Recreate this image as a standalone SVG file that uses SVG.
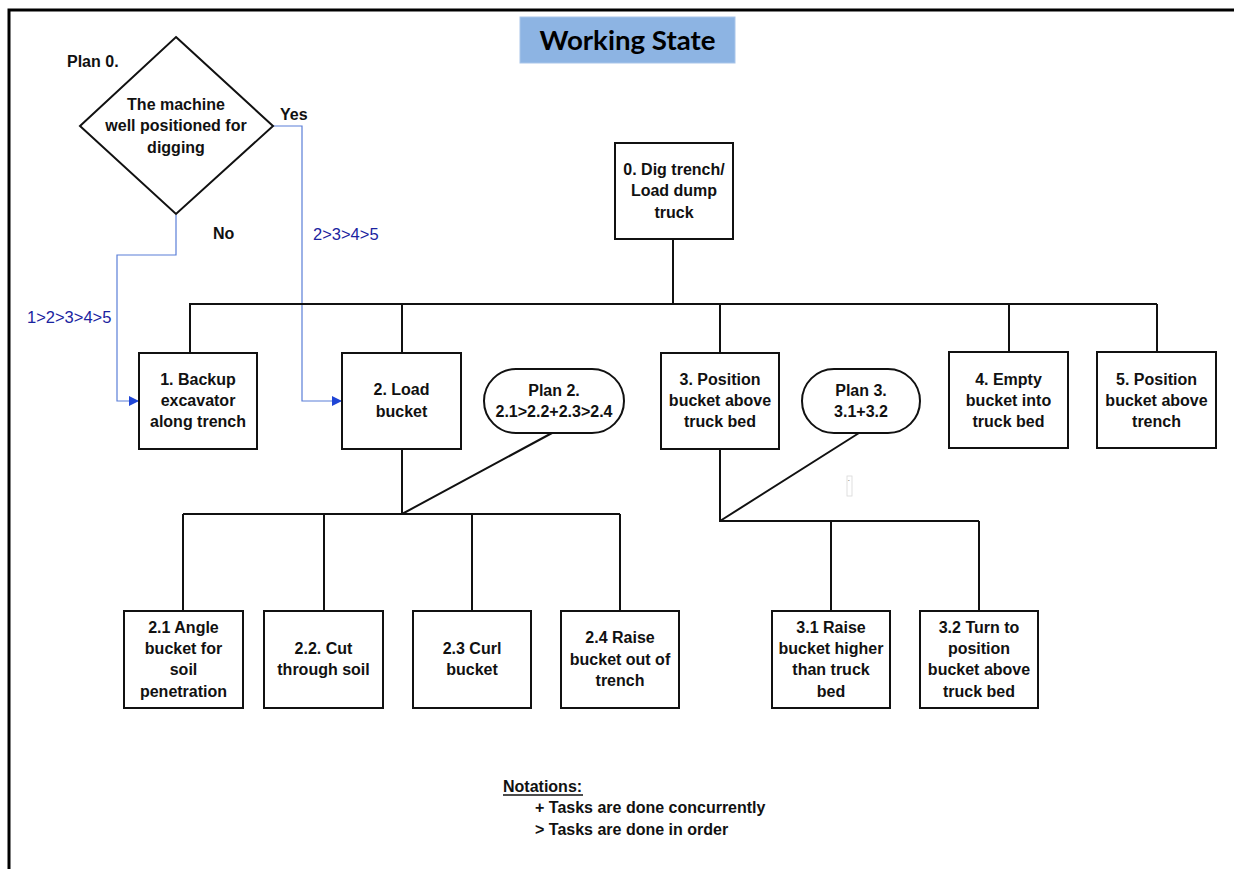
<svg xmlns="http://www.w3.org/2000/svg" width="1234" height="869" viewBox="0 0 1234 869">
<defs>
<style>
.t{font-family:"Liberation Sans",Arial,sans-serif;font-size:16px;font-weight:bold;fill:#111;text-anchor:middle}
.l{font-family:"Liberation Sans",Arial,sans-serif;font-size:16px;font-weight:bold;fill:#111}
.b{font-family:"Liberation Sans",Arial,sans-serif;font-size:16.5px;fill:#1a23a0}
.n{font-family:"Liberation Sans",Arial,sans-serif;font-size:16px;font-weight:bold;fill:#111}
.box{fill:#fff;stroke:#111;stroke-width:2}
.ln{fill:none;stroke:#111;stroke-width:2}
.bl{fill:none;stroke:#5a7ed8;stroke-width:1.2}
</style>
<marker id="ar" markerWidth="10" markerHeight="10" refX="9" refY="5" orient="auto" markerUnits="userSpaceOnUse">
<path d="M0,0 L10,5 L0,10 Z" fill="#1f45d6"/>
</marker>
</defs>
<rect width="1234" height="869" fill="#fff"/>
<path d="M9,869 L9,10 L1234,10" fill="none" stroke="#000" stroke-width="3"/>

<g id="title">
<rect x="520" y="17" width="215" height="46" fill="#8db4e3" stroke="#a9c6ea" stroke-width="1"/>
<text x="627.5" y="50" font-family="Lato,'Open Sans',sans-serif" font-size="26" font-weight="bold" text-anchor="middle" fill="#000" textLength="176" lengthAdjust="spacingAndGlyphs">Working State</text>
</g>

<g id="connectors">
<path class="bl" d="M273,126 L302,126 L302,401 L341,401" marker-end="url(#ar)"/>
<path class="bl" d="M176,215 L176,255 L117,255 L117,401 L138,401" marker-end="url(#ar)"/>
<path class="ln" d="M673,239 L673,304 M189,304 L1157,304 M190,304 L190,353 M402,304 L402,353 M720,304 L720,353 M1009,304 L1009,352 M1157,304 L1157,352"/>
<path class="ln" d="M402,449 L402,514 M183,514 L620,514 M183,514 L183,611 M324,514 L324,611 M472,514 L472,611 M620,514 L620,611 M552,433 L402,514"/>
<path class="ln" d="M720,449 L720,521 L979,521 M831,521 L831,611 M979,521 L979,611 M859,433 L720,521"/>
</g>

<g id="labels">
<text class="l" x="67" y="67">Plan 0.</text>
<text class="l" x="280" y="120">Yes</text>
<text class="l" x="213" y="239">No</text>
<text class="b" x="313" y="240">2&gt;3&gt;4&gt;5</text>
<text class="b" x="27" y="323">1&gt;2&gt;3&gt;4&gt;5</text>
</g>

<g id="decision">
<polygon points="176,37 273,126 176,214 80,126" fill="#fff" stroke="#111" stroke-width="2"/>
<text class="t" x="176" y="110">The machine</text>
<text class="t" x="176" y="131">well positioned for</text>
<text class="t" x="176" y="153">digging</text>
</g>

<g id="n0">
<rect class="box" x="615" y="143" width="118" height="96"/>
<text class="t" x="674" y="175">0. Dig trench/</text>
<text class="t" x="674" y="196">Load dump</text>
<text class="t" x="674" y="218">truck</text>
</g>

<g id="n1">
<rect class="box" x="139" y="353" width="118" height="96"/>
<text class="t" x="198" y="385">1. Backup</text>
<text class="t" x="198" y="406">excavator</text>
<text class="t" x="198" y="427">along trench</text>
</g>

<g id="n2">
<rect class="box" x="342" y="353" width="119" height="96"/>
<text class="t" x="401.5" y="395">2. Load</text>
<text class="t" x="401.5" y="417">bucket</text>
</g>

<g id="plan2">
<rect class="box" x="484" y="369" width="140" height="64" rx="32" ry="32"/>
<text class="t" x="554" y="396">Plan 2.</text>
<text class="t" x="554" y="417">2.1&gt;2.2+2.3&gt;2.4</text>
</g>

<g id="n3">
<rect class="box" x="661" y="353" width="118" height="96"/>
<text class="t" x="720" y="385">3. Position</text>
<text class="t" x="720" y="406">bucket above</text>
<text class="t" x="720" y="427">truck bed</text>
</g>

<g id="plan3">
<rect class="box" x="802" y="369" width="118" height="64" rx="32" ry="32"/>
<text class="t" x="861" y="396">Plan 3.</text>
<text class="t" x="861" y="417">3.1+3.2</text>
</g>

<g id="n4">
<rect class="box" x="949" y="352" width="119" height="96"/>
<text class="t" x="1008.5" y="385">4. Empty</text>
<text class="t" x="1008.5" y="406">bucket into</text>
<text class="t" x="1008.5" y="427">truck bed</text>
</g>

<g id="n5">
<rect class="box" x="1097" y="352" width="119" height="96"/>
<text class="t" x="1156.5" y="385">5. Position</text>
<text class="t" x="1156.5" y="406">bucket above</text>
<text class="t" x="1156.5" y="427">trench</text>
</g>

<g id="n21">
<rect class="box" x="124" y="611" width="119" height="97"/>
<text class="t" x="183.5" y="633">2.1 Angle</text>
<text class="t" x="183.5" y="654">bucket for</text>
<text class="t" x="183.5" y="675">soil</text>
<text class="t" x="183.5" y="697">penetration</text>
</g>

<g id="n22">
<rect class="box" x="264" y="611" width="119" height="97"/>
<text class="t" x="323.5" y="654">2.2. Cut</text>
<text class="t" x="323.5" y="675">through soil</text>
</g>

<g id="n23">
<rect class="box" x="413" y="611" width="118" height="97"/>
<text class="t" x="472" y="654">2.3 Curl</text>
<text class="t" x="472" y="675">bucket</text>
</g>

<g id="n24">
<rect class="box" x="561" y="611" width="118" height="97"/>
<text class="t" x="620" y="643">2.4 Raise</text>
<text class="t" x="620" y="665">bucket out of</text>
<text class="t" x="620" y="686">trench</text>
</g>

<g id="n31">
<rect class="box" x="772" y="611" width="118" height="97"/>
<text class="t" x="831" y="633">3.1 Raise</text>
<text class="t" x="831" y="654">bucket higher</text>
<text class="t" x="831" y="675">than truck</text>
<text class="t" x="831" y="697">bed</text>
</g>

<g id="n32">
<rect class="box" x="920" y="611" width="118" height="97"/>
<text class="t" x="979" y="633">3.2 Turn to</text>
<text class="t" x="979" y="654">position</text>
<text class="t" x="979" y="675">bucket above</text>
<text class="t" x="979" y="697">truck bed</text>
</g>

<g id="mark">
<rect x="847" y="476" width="5" height="20" fill="#fff" stroke="#d8d8d8" stroke-width="0.8"/>
<text x="847.5" y="485" font-family="'Liberation Sans',sans-serif" font-size="8" fill="#333">`</text>
</g>

<g id="notations">
<text class="n" x="503" y="792">Notations:</text>
<line x1="503" y1="795" x2="583" y2="795" stroke="#111" stroke-width="1.3"/>
<text class="n" x="535" y="813">+ Tasks are done concurrently</text>
<text class="n" x="535" y="835">&gt; Tasks are done in order</text>
</g>
</svg>
